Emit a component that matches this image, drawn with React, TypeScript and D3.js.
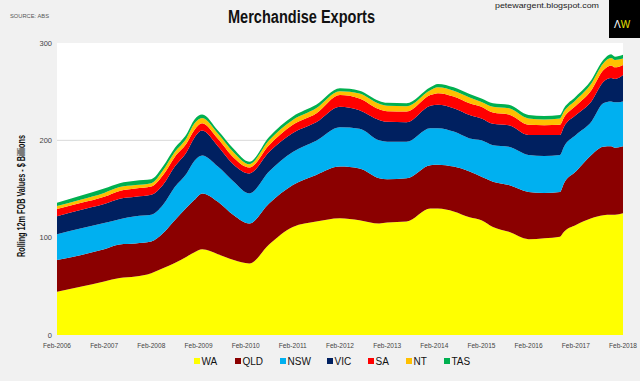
import React from "react";
import * as d3 from "d3";

const dates = [
  "2006-02","2006-08","2007-02","2007-06","2007-10","2008-02","2008-05","2008-08","2008-11",
  "2009-01","2009-03","2009-07","2009-11","2010-03","2010-08","2011-02","2011-08","2012-02",
  "2012-07","2012-12","2013-02","2013-07","2014-01","2014-03","2014-07","2014-11","2015-02",
  "2015-05","2015-09","2016-02","2016-06","2016-10","2016-11","2017-02","2017-06","2017-09",
  "2017-11","2017-12","2018-02",
];
const WA = [44.5,49.5,55,58.5,60,63.5,68.5,74,80.5,85,88,83,77,73.5,93,111,116.5,120,118,114.5,115.5,116.5,130,130,127,121,118,111,106,98.5,99.5,101,106,113,120,123,123.5,123.5,125];
const QLD = [32.5,32.5,33,34.5,34,32.5,36,44,50.5,54,57.5,54,46,41,42,43,48,53,53,46.5,44.5,44.5,44.5,45,46,47,44.5,46.5,48,48.5,46.5,46,50,55,65,70.5,70.5,69,69];
const NSW = [26.5,27.5,27,26,28,27.5,29,34,35,40,39,36,34.5,31,33,34,35,40.5,41,39,38.5,37.5,38,37.5,36,34,37.5,37.5,39.5,38,38,38,37.5,37.5,34,44.5,46,46.5,46];
const VIC = [18.5,19,19.5,21,20,20.5,20.5,21,22,24,25.5,21,17.5,20.5,20,19.5,19,21,19,21,20.5,20,23,24,24,24,22.5,22,22,20.5,21.5,20.5,20.5,20.5,21,22,24,24,27];
const SA = [7.5,7,7.5,8,8.5,8.5,10,10,9,8,7.5,7.5,7,6,7,8.5,9,12,12,11,11,11,11,12,12,12,12,11.5,11,10.5,10,10.5,9.5,9.5,11.5,12,13,12,10.5];
const NT = [3,3.5,4,4,3.5,3.5,5,5,5.5,6.5,5.5,5.5,5.5,3.5,5,5,5.5,4,5,5.5,5.5,5.5,5,6,6,6,5,6,6.5,6.5,6,6.5,6,6,7,7,7.5,7.5,6.5];
const TAS = [3.5,4,4.5,4,4.5,4,4,4,4,4,3.5,3,3.5,2.5,3.5,3.5,3.5,3,3,3,3,3,3,3.5,3.5,3.5,3.5,3.5,3.5,3.5,3.5,3.5,3.5,3.5,3.5,3.5,4,3.5,4];

const seriesNames = ["WA", "QLD", "NSW", "VIC", "SA", "NT", "TAS"];
const seriesValues = [WA, QLD, NSW, VIC, SA, NT, TAS];
const colors = ["#ffff00", "#8b0000", "#00b0f0", "#002060", "#ff0000", "#ffc000", "#00b050"];
const yTicks = [0, 100, 200, 300];
const xTickYears = [2006,2007,2008,2009,2010,2011,2012,2013,2014,2015,2016,2017,2018];

const parse = d3.timeParse("%Y-%m");

export default function App() {
  const W = 640, H = 381;
  const left = 57, right = 623, top = 43, bottom = 335;
  const rows = dates.map((d, i) => {
    const r: any = { date: parse(d) };
    seriesNames.forEach((k, j) => (r[k] = seriesValues[j][i]));
    return r;
  });
  const x = d3.scaleTime().domain([new Date(2006, 1, 1), new Date(2018, 1, 1)]).range([left, right]);
  const y = d3.scaleLinear().domain([0, 300]).range([bottom, top]);
  const stack = d3.stack().keys(seriesNames);
  const layers = stack(rows);
  const area = d3
    .area<any>()
    .x((d) => x(d.data.date))
    .y0((d) => y(d[0]))
    .y1((d) => y(d[1]))
    .curve(d3.curveMonotoneX);

  const legendX = [194, 235, 280, 327, 368, 406, 444];
  const font = "'Liberation Sans', Arial, sans-serif";

  return (
    <div style={{ position: "fixed", left: 0, top: 0 }}>
      <svg width={W} height={H} style={{ display: "block" }}>
        <rect x={0} y={0} width={W} height={H} fill="#f1f1f1" />
        <rect x={left} y={top} width={right - left} height={bottom - top} fill="#ffffff" />
        {[100, 200].map((t) => (
          <line key={t} x1={left} x2={right} y1={y(t)} y2={y(t)} stroke="#d9d9d9" strokeWidth={1} />
        ))}
        {layers.map((L, i) => (
          <path key={seriesNames[i]} d={area(L as any) || ""} fill={colors[i]} />
        ))}
        {yTicks.map((t) => (
          <text key={t} x={52} y={y(t) + 2.5} textAnchor="end" fontSize={7.5} fill="#444" fontFamily={font}>
            {t}
          </text>
        ))}
        {xTickYears.map((yr) => (
          <text
            key={yr}
            x={x(new Date(yr, 1, 1))}
            y={348}
            textAnchor="middle"
            fontSize={7}
            fill="#444"
            fontFamily={font}
            textLength={28}
            lengthAdjust="spacingAndGlyphs"
          >
            {"Feb-" + yr}
          </text>
        ))}
        <text
          transform={`translate(25,${196}) rotate(-90)`}
          textAnchor="middle"
          fontSize={10}
          fontWeight="bold"
          fill="#111"
          fontFamily={font}
          textLength={122}
          lengthAdjust="spacingAndGlyphs"
        >
          Rolling 12m FOB Values - $ Billions
        </text>
        <text x={301.5} y={22.5} textAnchor="middle" fontSize={18} fontWeight="bold" fill="#111" fontFamily={font} textLength={147} lengthAdjust="spacingAndGlyphs">
          Merchandise Exports
        </text>
        <text x={10} y={17.5} fontSize={6} fill="#555" fontFamily={font} textLength={39} lengthAdjust="spacingAndGlyphs">
          SOURCE: ABS
        </text>
        <text x={495} y={8} fontSize={8} fill="#222" fontFamily={font} textLength={104} lengthAdjust="spacingAndGlyphs">
          petewargent.blogspot.com
        </text>
        <rect x={609} y={0} width={31} height={38} fill="#000" />
        <text x={614} y={28} fontSize={10} fill="#ffffff" fontFamily={font}>
          Λ
          <tspan fill="#e8e000">W</tspan>
        </text>
        {seriesNames.map((n, i) => (
          <g key={n}>
            <rect x={legendX[i]} y={358} width={6} height={6} fill={colors[i]} />
            <text x={legendX[i] + 7.5} y={365} fontSize={10} fill="#111" fontFamily={font}>
              {n}
            </text>
          </g>
        ))}
      </svg>
    </div>
  );
}
